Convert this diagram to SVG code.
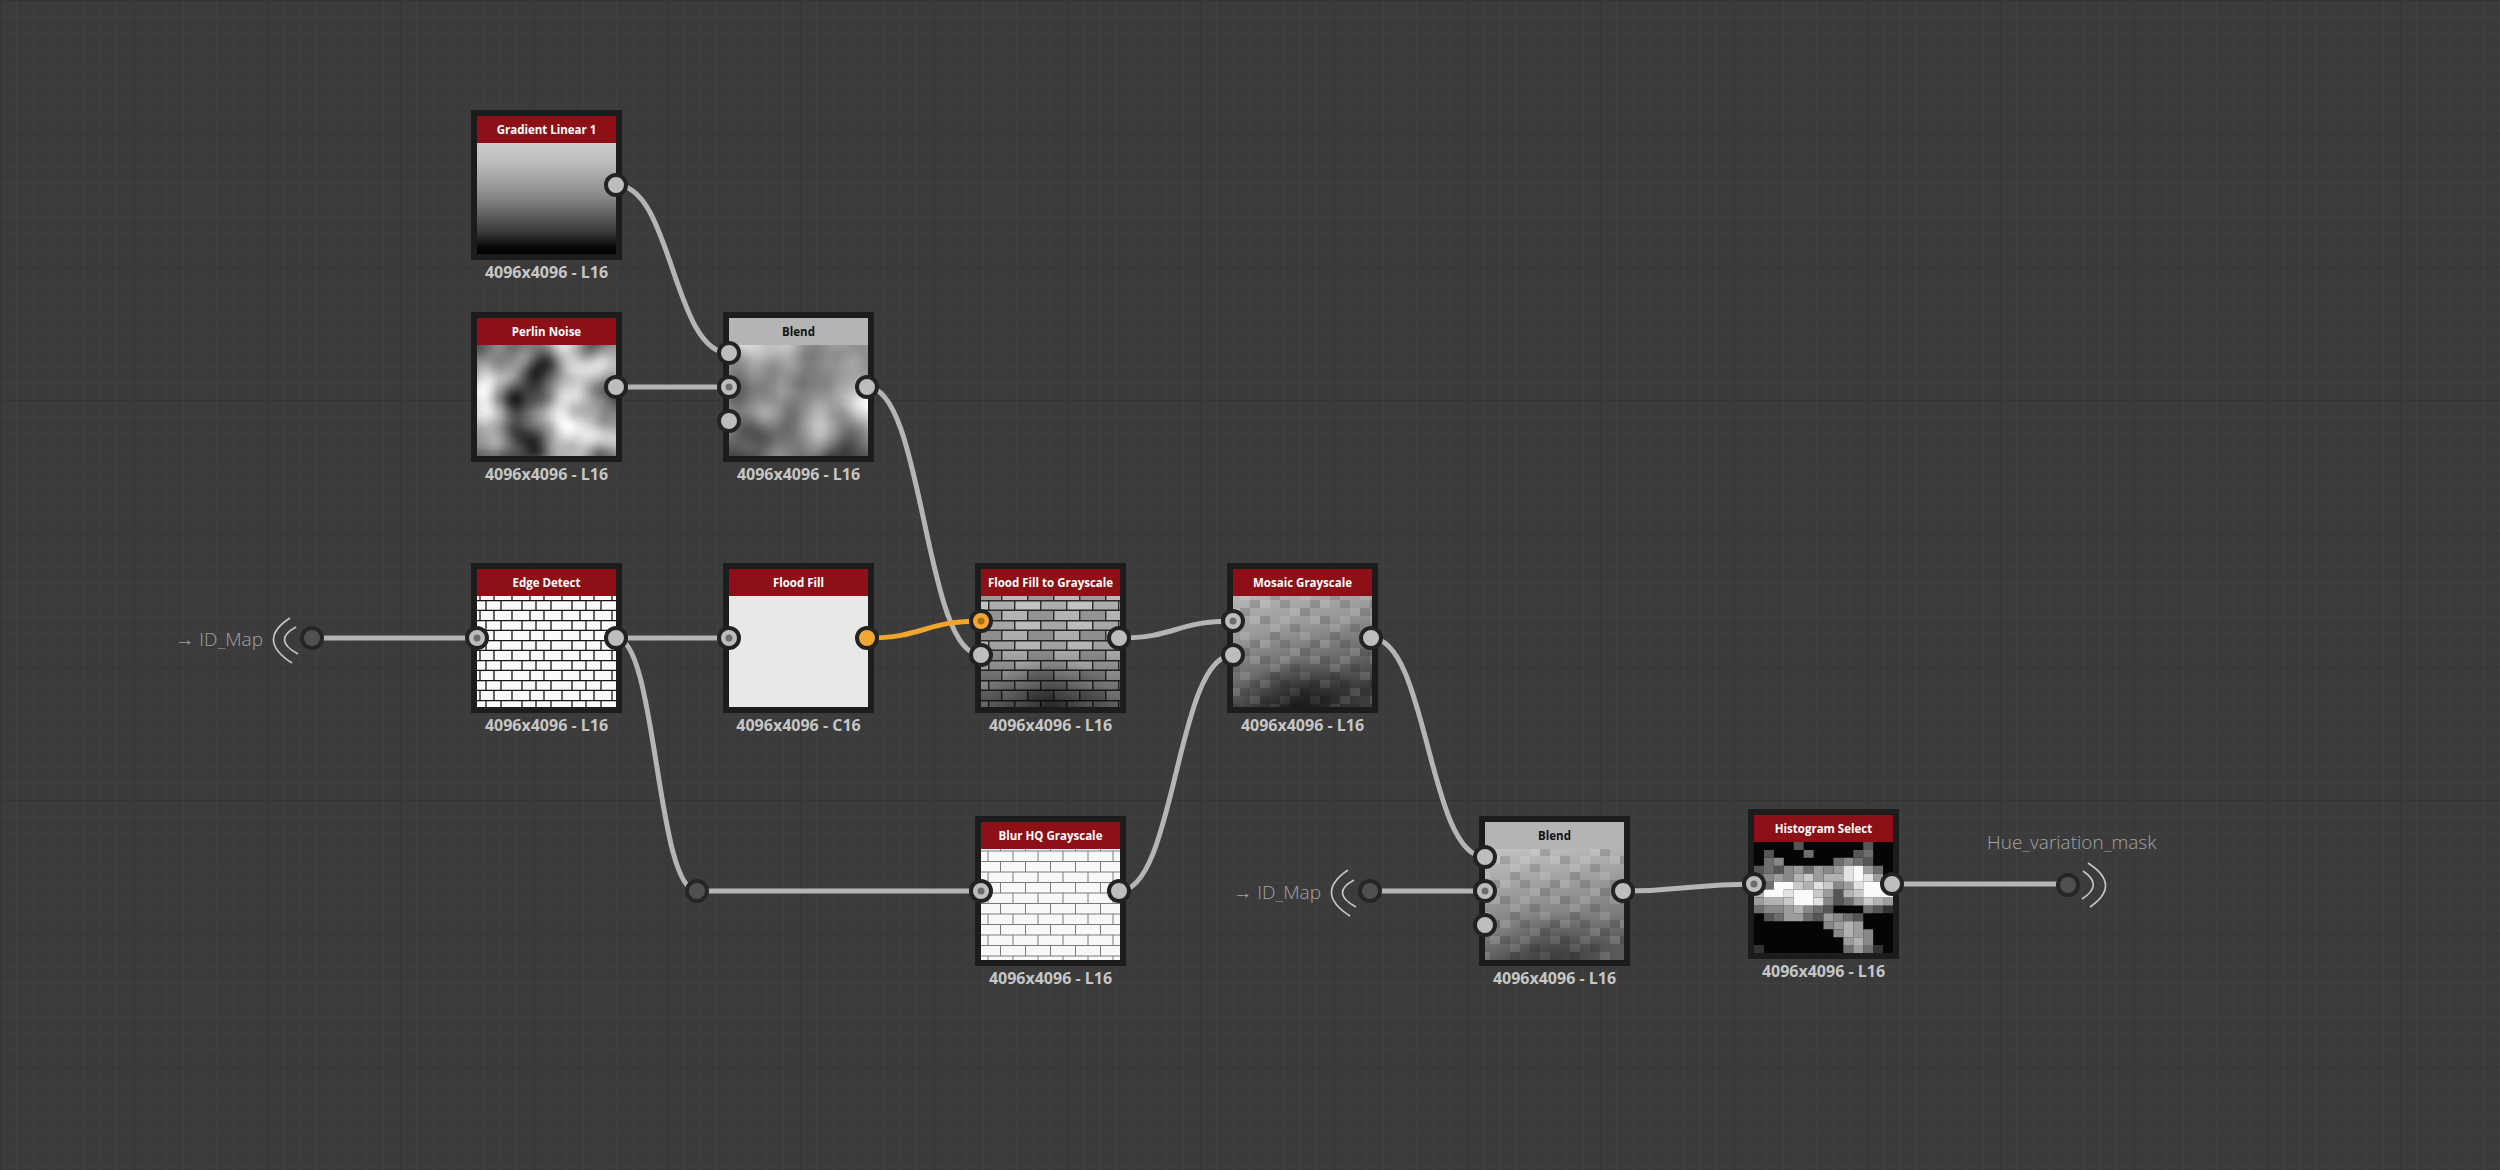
<svg xmlns="http://www.w3.org/2000/svg" width="2500" height="1170" viewBox="0 0 2500 1170">
<style>
.nb{fill:#1c1c1c}
.hd{fill:#8c1016}
.hg{fill:#b4b4b4}
.tt{font-family:"Open Sans","Liberation Sans",sans-serif;font-weight:700;font-size:11.5px;fill:#ffffff;text-anchor:middle}
.tk{fill:#111111}
.lb{font-family:"Open Sans","Liberation Sans",sans-serif;font-weight:700;font-size:16px;fill:#c6c6c6;text-anchor:middle}
.pt{fill:#bdbdbd;stroke:#222222;stroke-width:4}
.po{fill:#f2a733;stroke:#222222;stroke-width:4}
.pd{fill:#6c6c6c}
.pdo{fill:#a8701c}
.cn{fill:none;stroke:#b5b5b5;stroke-width:5}
.co{stroke:#f0a52e}
.io{font-family:"Open Sans","Liberation Sans",sans-serif;font-weight:300;font-size:19px;fill:#a3a3a3}
.br{fill:none;stroke:#c4c4c4;stroke-width:1.7}
.gp{fill:#505050;stroke:#262626;stroke-width:4}
</style>
<defs>
<pattern id="grid" width="133.333" height="133.333" patternUnits="userSpaceOnUse">
<rect width="133.333" height="133.333" fill="#3b3b3b"/>
<path d="M16.67,0V133.4M33.33,0V133.4M50,0V133.4M66.67,0V133.4M83.33,0V133.4M100,0V133.4M116.67,0V133.4M0,16.67H133.4M0,33.33H133.4M0,50H133.4M0,66.67H133.4M0,83.33H133.4M0,100H133.4M0,116.67H133.4" stroke="#404040" stroke-width="1"/>
<path d="M0.5,0V133.4M0,0.5H133.4" stroke="#353535" stroke-width="1"/>
</pattern>
<linearGradient id="gLin" x1="0" y1="0" x2="0" y2="1">
<stop offset="0" stop-color="#cbcbcb"/><stop offset="0.15" stop-color="#c0c0c0"/><stop offset="0.5" stop-color="#858585"/><stop offset="0.8" stop-color="#3a3a3a"/><stop offset="0.93" stop-color="#0a0a0a"/><stop offset="1" stop-color="#000"/>
</linearGradient>
<linearGradient id="gB1" x1="0" y1="0" x2="0" y2="1">
<stop offset="0" stop-color="#fff" stop-opacity="0.3"/><stop offset="0.5" stop-color="#fff" stop-opacity="0"/><stop offset="1" stop-color="#000" stop-opacity="0.35"/>
</linearGradient>
<linearGradient id="gDark" x1="0" y1="0" x2="0" y2="1">
<stop offset="0" stop-color="#000" stop-opacity="0"/><stop offset="0.5" stop-color="#000" stop-opacity="0.1"/><stop offset="1" stop-color="#000" stop-opacity="0.5"/>
</linearGradient>
<linearGradient id="gMos" x1="0" y1="0" x2="0.3" y2="1">
<stop offset="0" stop-color="#b6b6b6"/><stop offset="0.35" stop-color="#9a9a9a"/><stop offset="0.7" stop-color="#6c6c6c"/><stop offset="1" stop-color="#3c3c3c"/>
</linearGradient>
<linearGradient id="gBl2" x1="0" y1="0" x2="0.2" y2="1">
<stop offset="0" stop-color="#c4c4c4"/><stop offset="0.4" stop-color="#9e9e9e"/><stop offset="0.75" stop-color="#7a7a7a"/><stop offset="1" stop-color="#5a5a5a"/>
</linearGradient>
<radialGradient id="gBot" cx="0.5" cy="1" r="0.45">
<stop offset="0" stop-color="#000" stop-opacity="0.55"/><stop offset="1" stop-color="#000" stop-opacity="0"/>
</radialGradient>
<filter id="noise1" x="0" y="0" width="1" height="1" color-interpolation-filters="sRGB">
<feTurbulence type="fractalNoise" baseFrequency="0.02" numOctaves="2" seed="7"/>
<feColorMatrix type="matrix" values="1.5 0 0 0 -0.22 1.5 0 0 0 -0.22 1.5 0 0 0 -0.22 0 0 0 0 1"/>
</filter>
<filter id="noise2" x="0" y="0" width="1" height="1" color-interpolation-filters="sRGB">
<feTurbulence type="fractalNoise" baseFrequency="0.018" numOctaves="2" seed="11"/>
<feColorMatrix type="matrix" values="1.2 0 0 0 -0.05 1.2 0 0 0 -0.05 1.2 0 0 0 -0.05 0 0 0 0 1"/>
</filter>
<pattern id="pE" width="50" height="20" patternUnits="userSpaceOnUse">
<rect width="50" height="20" fill="#fafafa"/>
<path d="M0,0.7H50M0,10.3H50M1,0.7V10.3M22,0.7V10.3M36,0.7V10.3M12,10.3V20M30,10.3V20M44,10.3V20" stroke="#151515" stroke-width="1.3" fill="none"/>
</pattern>
<pattern id="pB" width="50" height="21" patternUnits="userSpaceOnUse">
<rect width="50" height="21" fill="#f8f8f8"/>
<path d="M0,0.5H50M0,11H50M0.5,0V11M25.5,0V11M13,11V21M38,11V21" stroke="#7a7a7a" stroke-width="1" fill="none"/>
</pattern>
<pattern id="pF" width="52" height="20" patternUnits="userSpaceOnUse">
<rect x="0" y="0" width="26" height="10" fill="#b0b0b0"/>
<rect x="26" y="0" width="26" height="10" fill="#c6c6c6"/>
<rect x="0" y="10" width="13" height="10" fill="#999"/>
<rect x="39" y="10" width="13" height="10" fill="#999"/>
<rect x="13" y="10" width="26" height="10" fill="#bababa"/>
<path d="M0,0.75H52M0,10.25H52M0.75,0V10M26.75,0V10M13.75,10V20M39.75,10V20" stroke="#2a2a2a" stroke-width="1.4" fill="none"/>
</pattern>
<pattern id="pM" width="60" height="40" patternUnits="userSpaceOnUse">
<path d="M0,0h10v8h-10zM30,8h10v8h-10zM50,16h10v8h-10zM10,24h10v8h-10zM40,32h10v8h-10zM20,16h10v8h-10z" fill="#fff" fill-opacity="0.13"/>
<path d="M20,0h10v8h-10zM40,8h10v8h-10zM0,16h10v8h-10zM30,24h10v8h-10zM50,0h10v8h-10zM10,32h10v8h-10z" fill="#000" fill-opacity="0.13"/>
</pattern>
</defs>

<rect id="background" width="2500" height="1170" fill="url(#grid)"/>

<g id="connectors">
<path class="cn" d="M616,185 C672,185 673,353 729,353"/>
<path class="cn" d="M616,387 H729"/>
<path class="cn" d="M867,387 C924,387 924,655 981,655"/>
<path class="cn" d="M312,638 H477"/>
<path class="cn" d="M616,638 H729"/>
<path class="cn" d="M616,638 C657,638 656,891 697,891"/>
<path class="cn" d="M697,891 H981"/>
<path class="cn co" d="M867,638 C924,638 924,621 981,621"/>
<path class="cn" d="M1119,638 C1176,638 1176,621 1233,621"/>
<path class="cn" d="M1119,891 C1176,891 1176,655 1233,655"/>
<path class="cn" d="M1371,638 C1428,638 1428,857 1485,857"/>
<path class="cn" d="M1370,891 H1485"/>
<path class="cn" d="M1623,891 C1688,891 1688,884 1754,884"/>
<path class="cn" d="M1892,884 H2068"/>
</g>

<g id="input-id-map-1">
<text class="io" x="263" y="646" text-anchor="end">→ ID_Map</text>
<path class="br" d="M290,618 Q256,640 292,663"/>
<path class="br" d="M296,627 Q272,640 298,654"/>
<circle class="gp" cx="312" cy="638" r="10"/>
</g>

<g id="input-id-map-2">
<text class="io" x="1321" y="899" text-anchor="end">→ ID_Map</text>
<path class="br" d="M1348,870 Q1314,893 1350,916"/>
<path class="br" d="M1354,880 Q1330,893 1356,907"/>
<circle class="gp" cx="1370" cy="891" r="10"/>
</g>

<g id="output-hue-variation-mask">
<text class="io" x="1987" y="849">Hue_variation_mask</text>
<path class="br" d="M2083,871 Q2104,885 2082,899"/>
<path class="br" d="M2088,863 Q2122,885 2090,907"/>
<circle class="gp" cx="2068" cy="885" r="10"/>
</g>

<g id="dot-relay">
<circle class="gp" cx="697" cy="891" r="10"/>
</g>

<g id="gradient-linear-1">
<rect class="nb" x="471" y="110" width="151" height="150"/>
<rect x="477" y="143" width="139" height="111" fill="url(#gLin)"/>
<rect class="hd" x="477" y="116" width="139" height="27"/>
<text class="tt" x="546.5" y="134">Gradient Linear 1</text>
<text class="lb" x="546.5" y="278">4096x4096 - L16</text>
<circle class="pt" cx="616" cy="185" r="10"/>
</g>

<g id="perlin-noise">
<rect class="nb" x="471" y="312" width="151" height="150"/>
<rect x="477" y="345" width="139" height="111" fill="#888" filter="url(#noise1)"/>
<rect class="hd" x="477" y="318" width="139" height="27"/>
<text class="tt" x="546.5" y="336">Perlin Noise</text>
<text class="lb" x="546.5" y="480">4096x4096 - L16</text>
<circle class="pt" cx="616" cy="387" r="10"/>
</g>

<g id="blend-1">
<rect class="nb" x="723" y="312" width="151" height="150"/>
<rect x="729" y="345" width="139" height="111" fill="#888" filter="url(#noise2)"/>
<rect x="729" y="345" width="139" height="111" fill="url(#gB1)"/>
<rect class="hg" x="729" y="318" width="139" height="27"/>
<text class="tt tk" x="798.5" y="336">Blend</text>
<text class="lb" x="798.5" y="480">4096x4096 - L16</text>
<circle class="pt" cx="729" cy="353" r="10"/>
<circle class="pt" cx="729" cy="387" r="10"/><circle class="pd" cx="729" cy="387" r="3.5"/>
<circle class="pt" cx="729" cy="421" r="10"/>
<circle class="pt" cx="867" cy="387" r="10"/>
</g>

<g id="edge-detect">
<rect class="nb" x="471" y="563" width="151" height="150"/>
<rect x="477" y="596" width="139" height="111" fill="url(#pE)"/>
<rect class="hd" x="477" y="569" width="139" height="27"/>
<text class="tt" x="546.5" y="587">Edge Detect</text>
<text class="lb" x="546.5" y="731">4096x4096 - L16</text>
<circle class="pt" cx="477" cy="638" r="10"/><circle class="pd" cx="477" cy="638" r="3.5"/>
<circle class="pt" cx="616" cy="638" r="10"/>
</g>

<g id="flood-fill">
<rect class="nb" x="723" y="563" width="151" height="150"/>
<rect x="729" y="596" width="139" height="111" fill="#e8e8e6"/>
<rect class="hd" x="729" y="569" width="139" height="27"/>
<text class="tt" x="798.5" y="587">Flood Fill</text>
<text class="lb" x="798.5" y="731">4096x4096 - C16</text>
<circle class="pt" cx="729" cy="638" r="10"/><circle class="pd" cx="729" cy="638" r="3.5"/>
<circle class="po" cx="867" cy="638" r="10"/>
</g>

<g id="flood-fill-to-grayscale">
<rect class="nb" x="975" y="563" width="151" height="150"/>
<rect x="981" y="596" width="139" height="111" fill="url(#pF)"/>
<rect x="981" y="596" width="139" height="111" fill="url(#gDark)"/>
<rect x="981" y="596" width="139" height="111" fill="url(#gBot)"/>
<rect class="hd" x="981" y="569" width="139" height="27"/>
<text class="tt" x="1050.5" y="587">Flood Fill to Grayscale</text>
<text class="lb" x="1050.5" y="731">4096x4096 - L16</text>
<circle class="po" cx="981" cy="621" r="10"/><circle class="pdo" cx="981" cy="621" r="3.5"/>
<circle class="pt" cx="981" cy="655" r="10"/>
<circle class="pt" cx="1119" cy="638" r="10"/>
</g>

<g id="mosaic-grayscale">
<rect class="nb" x="1227" y="563" width="151" height="150"/>
<rect x="1233" y="596" width="139" height="111" fill="url(#gMos)"/>
<rect x="1233" y="596" width="139" height="111" fill="url(#pM)"/>
<rect x="1233" y="596" width="139" height="111" fill="url(#gBot)"/>
<rect class="hd" x="1233" y="569" width="139" height="27"/>
<text class="tt" x="1302.5" y="587">Mosaic Grayscale</text>
<text class="lb" x="1302.5" y="731">4096x4096 - L16</text>
<circle class="pt" cx="1233" cy="621" r="10"/><circle class="pd" cx="1233" cy="621" r="3.5"/>
<circle class="pt" cx="1233" cy="655" r="10"/>
<circle class="pt" cx="1371" cy="638" r="10"/>
</g>

<g id="blur-hq-grayscale">
<rect class="nb" x="975" y="816" width="151" height="150"/>
<rect x="981" y="849" width="139" height="111" fill="url(#pB)"/>
<rect class="hd" x="981" y="822" width="139" height="27"/>
<text class="tt" x="1050.5" y="840">Blur HQ Grayscale</text>
<text class="lb" x="1050.5" y="984">4096x4096 - L16</text>
<circle class="pt" cx="981" cy="891" r="10"/><circle class="pd" cx="981" cy="891" r="3.5"/>
<circle class="pt" cx="1119" cy="891" r="10"/>
</g>

<g id="blend-2">
<rect class="nb" x="1479" y="816" width="151" height="150"/>
<rect x="1485" y="849" width="139" height="111" fill="url(#gBl2)"/>
<rect x="1485" y="849" width="139" height="111" fill="url(#pM)"/>
<rect x="1485" y="849" width="139" height="111" fill="url(#gBot)" opacity="0.6"/>
<rect class="hg" x="1485" y="822" width="139" height="27"/>
<text class="tt tk" x="1554.5" y="840">Blend</text>
<text class="lb" x="1554.5" y="984">4096x4096 - L16</text>
<circle class="pt" cx="1485" cy="857" r="10"/>
<circle class="pt" cx="1485" cy="891" r="10"/><circle class="pd" cx="1485" cy="891" r="3.5"/>
<circle class="pt" cx="1485" cy="925" r="10"/>
<circle class="pt" cx="1623" cy="891" r="10"/>
</g>

<g id="histogram-select">
<rect class="nb" x="1748" y="809" width="151" height="150"/>
<rect x="1754" y="842" width="139" height="111" fill="#050505"/>
<g transform="translate(1754,842) scale(0.993,0.991)">
<path fill="#333" d="M130,64h10v8h-10zM0,104h10v8h-10zM120,104h10v8h-10z"/>
<path fill="#555" d="M40,0h10v8h-10zM110,0h10v8h-10zM10,8h10v8h-10zM100,8h10v8h-10zM110,16h10v8h-10zM0,24h10v8h-10zM20,24h10v8h-10zM0,40h10v8h-10zM80,48h10v8h-10zM80,56h10v8h-10zM70,64h10v8h-10zM120,64h10v8h-10zM10,72h10v8h-10zM60,72h10v8h-10zM100,72h10v8h-10z"/>
<path fill="#6e6e6e" d="M50,8h10v8h-10zM110,8h10v8h-10zM10,16h10v8h-10zM80,16h10v8h-10zM100,16h10v8h-10zM10,24h10v8h-10zM50,24h10v8h-10zM120,24h10v8h-10zM0,32h10v8h-10zM10,40h10v8h-10zM130,40h10v8h-10zM90,56h10v8h-10zM0,64h10v8h-10zM60,64h10v8h-10zM110,64h10v8h-10zM20,72h10v8h-10zM50,72h10v8h-10zM90,72h10v8h-10zM90,104h10v8h-10zM110,104h10v8h-10z"/>
<path fill="#888" d="M20,16h10v8h-10zM90,16h10v8h-10zM30,24h10v8h-10zM70,24h10v8h-10zM10,32h10v8h-10zM30,32h10v8h-10zM80,40h10v8h-10zM70,56h10v8h-10zM10,64h10v8h-10zM20,64h10v8h-10zM50,64h10v8h-10zM80,72h10v8h-10zM70,80h10v8h-10zM80,88h10v8h-10zM110,88h10v8h-10zM110,96h10v8h-10z"/>
<path fill="#9c9c9c" d="M40,24h10v8h-10zM60,24h10v8h-10zM80,24h10v8h-10zM110,24h10v8h-10zM20,32h10v8h-10zM60,32h10v8h-10zM120,32h10v8h-10zM90,40h10v8h-10zM70,48h10v8h-10zM0,56h10v8h-10zM100,56h10v8h-10zM130,56h10v8h-10zM30,64h10v8h-10zM30,72h10v8h-10zM40,72h10v8h-10zM70,72h10v8h-10zM80,80h10v8h-10zM100,80h10v8h-10zM100,88h10v8h-10zM90,96h10v8h-10zM100,104h10v8h-10z"/>
<path fill="#b2b2b2" d="M40,32h10v8h-10zM70,32h10v8h-10zM80,32h10v8h-10zM50,40h10v8h-10zM0,48h10v8h-10zM90,48h10v8h-10zM10,56h10v8h-10zM20,56h10v8h-10zM120,56h10v8h-10zM40,64h10v8h-10zM90,80h10v8h-10zM90,88h10v8h-10zM100,96h10v8h-10z"/>
<path fill="#cacaca" d="M50,32h10v8h-10zM40,40h10v8h-10zM70,40h10v8h-10zM60,48h10v8h-10zM100,48h10v8h-10zM30,56h10v8h-10zM110,56h10v8h-10z"/>
<path fill="#e2e2e2" d="M90,24h10v8h-10zM90,32h10v8h-10zM110,32h10v8h-10zM60,40h10v8h-10zM100,40h10v8h-10zM30,48h10v8h-10zM60,56h10v8h-10z"/>
<path fill="#fafafa" d="M100,24h10v8h-10zM100,32h10v8h-10zM20,40h10v8h-10zM30,40h10v8h-10zM110,40h10v8h-10zM120,40h10v8h-10zM10,48h10v8h-10zM20,48h10v8h-10zM40,48h10v8h-10zM50,48h10v8h-10zM110,48h10v8h-10zM120,48h10v8h-10zM130,48h10v8h-10zM40,56h10v8h-10zM50,56h10v8h-10z"/>
</g>
<rect class="hd" x="1754" y="815" width="139" height="27"/>
<text class="tt" x="1823.5" y="833">Histogram Select</text>
<text class="lb" x="1823.5" y="977">4096x4096 - L16</text>
<circle class="pt" cx="1754" cy="884" r="10"/><circle class="pd" cx="1754" cy="884" r="3.5"/>
<circle class="pt" cx="1892" cy="884" r="10"/>
</g>
</svg>
